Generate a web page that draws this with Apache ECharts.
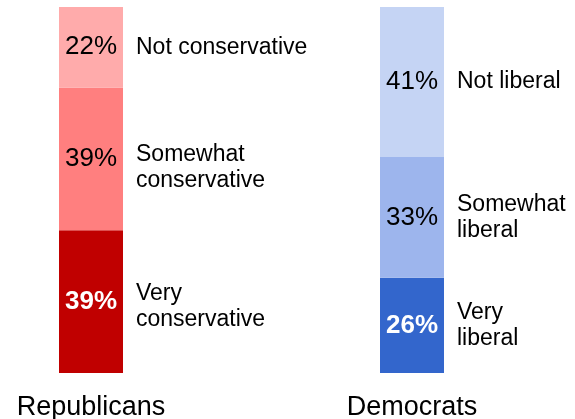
<!DOCTYPE html>
<html>
<head>
<meta charset="utf-8">
<script src="https://cdn.jsdelivr.net/npm/echarts@6/dist/echarts.min.js"></script>
<style>html,body{margin:0;padding:0;background:#fff}#c{width:575px;height:419px}</style>
</head>
<body>
<div id="c"></div>
<script>
var categories = ['Republicans', 'Democrats'];
var veryVals = [39, 26];
var somewhatVals = [39, 33];
var notVals = [22, 41];
var veryNames = ['Very\nconservative', 'Very\nliberal'];
var somewhatNames = ['Somewhat\nconservative', 'Somewhat\nliberal'];
var notNames = ['Not conservative', 'Not liberal'];

var FONT = 'Liberation Sans, Arial, sans-serif';
var colors = {
  very: ['#C00000', '#3366CC'],
  somewhat: ['#FF7F7F', '#9DB5ED'],
  not: ['#FFABAB', '#C5D4F4']
};

// an empty spacer slot between the two groups
var axisCats = [categories[0], '', categories[1]];
function spread(arr) { return [arr[0], '-', arr[1]]; }

function visible(name, vals, cols, white) {
  var v = spread(vals);
  var c = spread(cols);
  return {
    type: 'bar', stack: 'vis', name: name, barWidth: 64, barGap: '-100%',
    data: v.map(function (x, i) { return x === '-' ? '-' : { value: x, itemStyle: { color: c[i] } }; }),
    label: {
      show: true, position: 'inside', formatter: '{c}%',
      fontFamily: FONT, fontSize: 26,
      color: white ? '#fff' : '#000', fontWeight: white ? 'bold' : 'normal'
    },
    emphasis: { disabled: true }, silent: true
  };
}
function side(name, vals, names, offsets) {
  var v = spread(vals);
  var n = spread(names);
  var o = spread(offsets);
  return {
    type: 'bar', stack: 'side', name: name + '_lbl', barWidth: 64, barGap: '-100%',
    itemStyle: { color: 'rgba(0,0,0,0)' },
    data: v.map(function (x, i) {
      return x === '-' ? '-' : { value: x, label: { formatter: n[i], offset: o[i] } };
    }),
    label: {
      show: true, position: 'right', distance: 13,
      fontFamily: FONT, fontSize: 23, lineHeight: 26, color: '#000', align: 'left'
    },
    emphasis: { disabled: true }, silent: true
  };
}

var chart = echarts.init(document.getElementById('c'), null, { renderer: 'canvas' });
chart.setOption({
  animation: false,
  backgroundColor: '#fff',
  grid: { left: 10.75, right: 82.75, top: 7, bottom: 46, outerBoundsMode: 'none', containLabel: false },
  xAxis: {
    type: 'category', data: axisCats,
    axisLine: { show: false }, axisTick: { show: false },
    axisLabel: { fontFamily: FONT, fontSize: 27, color: '#000', margin: 21, interval: 0 }
  },
  yAxis: { type: 'value', min: 0, max: 100, show: false, splitLine: { show: false } },
  series: [
    visible('very', veryVals, colors.very, true),
    visible('somewhat', somewhatVals, colors.somewhat, false),
    visible('not', notVals, colors.not, false),
    side('very', veryVals, veryNames, [[0, 5], [0, 0]]),
    side('somewhat', somewhatVals, somewhatNames, [[0, 9], [0, 0]]),
    side('not', notVals, notNames, [[0, 0], [0, 0]])
  ]
});
</script>
</body>
</html>
